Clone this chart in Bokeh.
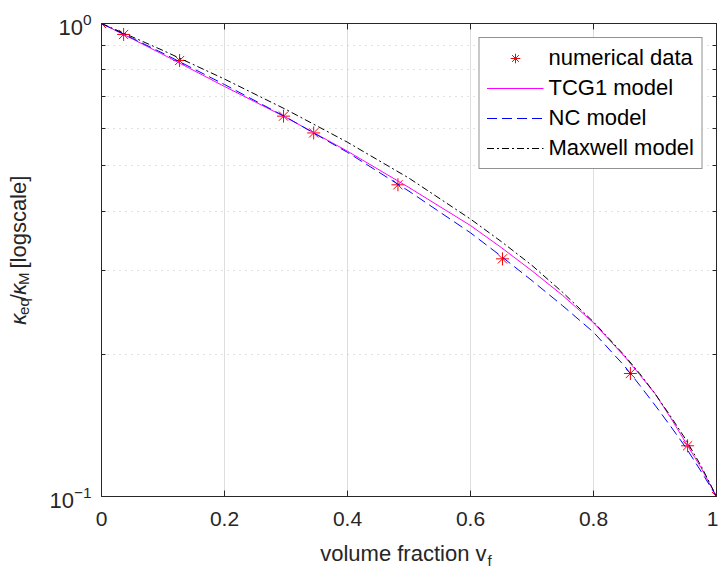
import math
from bokeh.plotting import figure
from bokeh.layouts import column, row
from bokeh.core.properties import value
from bokeh.models import (FixedTicker, LinearAxis, LogAxis, Legend, LegendItem, Range1d)
from bokeh.embed import file_html
from bokeh.resources import INLINE

# ---------------- data ----------------
vf_data = [0.0, 0.036, 0.127, 0.296, 0.345, 0.482, 0.652, 0.860, 0.953, 1.0]
kappa_data = [1.0, 0.948, 0.835, 0.637, 0.587, 0.456, 0.318, 0.182, 0.128, 0.1]

vf_model = [0.0, 0.05, 0.1, 0.2, 0.3, 0.4, 0.5, 0.6, 0.65, 0.7, 0.75, 0.8, 0.85,
            0.875, 0.9, 0.925, 0.95, 0.975, 1.0]
kappa_tcg1 = [1.0, 0.928, 0.860, 0.736, 0.633, 0.537, 0.450, 0.374, 0.336, 0.300,
              0.266, 0.233, 0.198, 0.181, 0.165, 0.147, 0.130, 0.115, 0.1]
kappa_nc = [1.0, 0.931, 0.865, 0.743, 0.634, 0.534, 0.442, 0.361, 0.322, 0.286,
            0.253, 0.2225, 0.189, 0.172, 0.156, 0.141, 0.127, 0.113, 0.1]
kappa_maxwell = [1.0, 0.937, 0.877, 0.763, 0.658, 0.561, 0.471, 0.386, 0.346, 0.308,
                 0.270, 0.234, 0.199, 0.182, 0.165, 0.148, 0.132, 0.116, 0.1]

x_ticks = [0.0, 0.2, 0.4, 0.6, 0.8, 1.0]
x_tick_labels = ["0", "0.2", "0.4", "0.6", "0.8", "1"]
y_ticks = [0.1, 1.0]
y_minor_ticks = [0.2, 0.3, 0.4, 0.5, 0.6, 0.7, 0.8, 0.9]

legend_labels = ["numerical data", "TCG1 model", "NC model", "Maxwell model"]

# ---------------- layout constants (pixels) ----------------
FONT = "Liberation Sans"
AX = "#262626"
W, H = 718, 570
YW = 44             # width of the strip holding the y title
MAIN_H = 534        # height of the main figure
FL, FR, FT, FB = 101, 716, 23, 496  # frame edges on the page

p = figure(width=W - YW, height=MAIN_H, x_range=Range1d(0, 1), y_range=Range1d(0.1, 1),
           y_axis_type="log", output_backend="svg", toolbar_location=None,
           min_border_left=FL - YW, min_border_right=W - FR, min_border_top=FT,
           min_border_bottom=MAIN_H - FB, background_fill_color="white",
           border_fill_color="white", outline_line_color=AX, outline_line_width=1)

xt = FixedTicker(ticks=x_ticks)
yt = FixedTicker(ticks=y_ticks, minor_ticks=y_minor_ticks)

def style_axis(ax, ticker, show_labels):
    ax.ticker = ticker
    ax.axis_line_color = AX
    ax.major_tick_in = 6
    ax.major_tick_out = 0
    ax.minor_tick_in = 4
    ax.minor_tick_out = 0
    ax.major_tick_line_color = AX
    ax.minor_tick_line_color = AX
    ax.major_label_text_font = FONT
    ax.major_label_text_color = AX
    if show_labels:
        ax.major_label_text_font_size = "21px"
    else:
        ax.major_label_text_font_size = "1px"
        ax.major_label_text_color = None
        ax.major_label_standoff = 0
        ax.major_label_overrides = {t: " " for t in ticker.ticks}

xaxis = p.xaxis[0]
yaxis = p.yaxis[0]
style_axis(xaxis, xt, True)
style_axis(yaxis, yt, True)
xaxis.major_label_standoff = 15
yaxis.major_label_standoff = 10
yaxis.major_label_text_font_size = "22px"
xaxis.major_label_overrides = {t: s for t, s in zip(x_ticks, x_tick_labels)}

top = LinearAxis()
style_axis(top, xt, False)
p.add_layout(top, "above")
right = LogAxis()
style_axis(right, yt, False)
p.add_layout(right, "right")

p.xgrid.ticker = xt
p.ygrid.ticker = yt
p.xgrid.grid_line_color = "#dedede"
p.ygrid.grid_line_color = None
p.ygrid.minor_grid_line_color = "#c4c4c4"
p.ygrid.minor_grid_line_dash = "1 5"

# ---------------- marks ----------------
r_data = p.scatter(vf_data, kappa_data, marker="asterisk", size=13,
                   line_color="#ff0000", line_width=1)
r_tcg = p.line(vf_model, kappa_tcg1, line_color="#ff00ff", line_width=1)
r_nc = p.line(vf_model, kappa_nc, line_color="#0000ff", line_width=1, line_dash="10 5")
r_mx = p.line(vf_model, kappa_maxwell, line_color="#000000", line_width=1,
              line_dash="7 3 2 3")

legend = Legend(items=[LegendItem(label=lbl, renderers=[r]) for lbl, r in
                       zip(legend_labels, [r_data, r_tcg, r_nc, r_mx])],
                location="top_right", margin=14, padding=7, spacing=4,
                glyph_width=57, glyph_height=24, label_height=24, label_standoff=5,
                label_text_font=FONT, label_text_font_size="22px",
                label_text_color="#000000", label_text_baseline="middle",
                border_line_color=AX, border_line_width=1,
                background_fill_color="white", background_fill_alpha=1.0)
p.add_layout(legend)

# ---------------- title strips (pixel coordinates of the page) ----------------
def strip(w, h, x0, y0):
    f = figure(width=w, height=h, x_range=Range1d(x0, x0 + w), y_range=Range1d(y0 + h, y0),
               output_backend="svg", toolbar_location=None, min_border=0,
               x_axis_location=None, y_axis_location=None, outline_line_color=None,
               background_fill_color="white", border_fill_color="white")
    f.grid.visible = False
    return f

def txt(f, s, x, y, size, angle=0.0, align="left", style="normal"):
    f.text(x=[x], y=[y], text=[s], text_font=value(FONT), text_font_size=value(f"{size}px"),
           text_font_style=style, text_color=AX, angle=angle, text_align=align,
           text_baseline="alphabetic")

# y title strip: "κ_eq/κ_M [logscale]" rotated
yfig = strip(YW, MAIN_H, 0, 0)
pieces = [("κ", 22, "italic", 0, 11.0), ("eq", 15, "normal", 5, 16.7),
          ("/", 22, "normal", 0, 6.1), ("κ", 22, "italic", 0, 11.0),
          ("M", 15, "normal", 5, 12.5 + 6.0), ("[logscale]", 22, "normal", 0, 93.0)]
y_pos = 340.0
base_x = 18
for s, sz, st, off, w in pieces:
    txt(yfig, s, base_x + off, y_pos, sz, angle=math.pi / 2, style=st)
    y_pos -= w

# x title strip: "volume fraction v_f"
xfig = strip(W, H - MAIN_H, 0, MAIN_H)
txt(xfig, "volume fraction v", 486, 553, 22, align="right")
txt(xfig, "f", 487, 560, 15)

layout = column(row(yfig, p), xfig)
open("out.html", "w").write(file_html(layout, INLINE))
